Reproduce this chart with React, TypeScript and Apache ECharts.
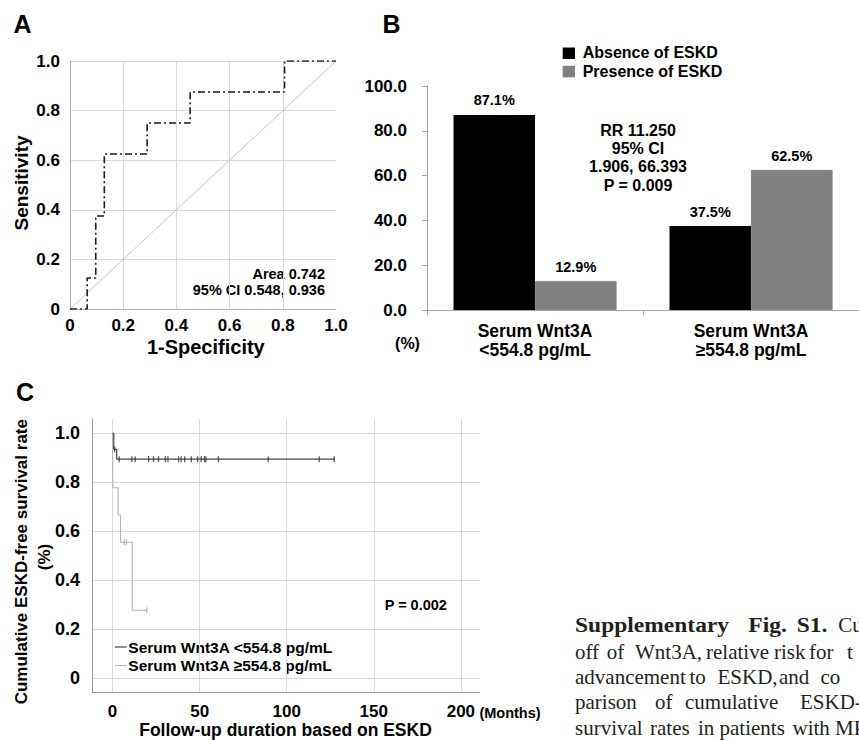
import React, { useEffect, useRef } from "react";
import * as echarts from "echarts";

const SANS = '"Liberation Sans", Arial, Helvetica, sans-serif';
const SERIF = '"Liberation Serif", "Times New Roman", serif';

// ---------- Panel A: ROC curve ----------
const rocFpr = [0, 0.0645, 0.0968, 0.129, 0.29, 0.4516, 0.8065, 1.0];
const rocTpr = [0, 0.125, 0.375, 0.625, 0.75, 0.875, 1.0, 1.0];
const rocTicks = [0, 0.2, 0.4, 0.6, 0.8, 1.0];

// ---------- Panel B: bar chart ----------
const barCategories = ["Serum Wnt3A\n<554.8 pg/mL", "Serum Wnt3A\n≥554.8 pg/mL"];
const absenceESKD = [87.1, 37.5];
const presenceESKD = [12.9, 62.5];

// ---------- Panel C: Kaplan-Meier ----------
const kmLowTime = [0, 0.7, 2.4, 127.3];
const kmLowSurv = [1.0, 0.935, 0.895, 0.895];
const kmLowCensor = [1.2, 3.8, 11.1, 13.0, 20.7, 23.5, 26.4, 30.3, 31.8, 37.9, 39.4, 41.4, 45.2, 48.8, 50.9, 52.8, 53.6, 60.8, 89.4, 118.7, 127.3];
const kmHighTime = [0, 0, 0.2, 3.2, 4.6, 11.3, 19.7];
const kmHighSurv = [1.0, 0.889, 0.778, 0.667, 0.556, 0.278, 0.278];
const kmHighCensor = [6.7, 7.9, 19.7];
const kmXTicks = [0, 50, 100, 150, 200];
const kmYTicks = [0, 0.2, 0.4, 0.6, 0.8, 1.0];

function survAt(times: number[], survs: number[], t: number) {
  let s = survs[0];
  for (let i = 0; i < times.length; i++) if (times[i] <= t) s = survs[i];
  return s;
}

const pairs = (xs: number[], ys: number[]) => xs.map((x, i) => [x, ys[i]]);

const fmt1 = (v: number) => (Math.abs(v) < 1e-9 ? "0" : v.toFixed(1));

const txt = (x: number, y: number, text: string, size: number, extra: any = {}) => ({
  type: "text",
  x,
  y,
  rotation: extra.rotation || 0,
  scaleX: extra.scaleX || 1,
  style: {
    text,
    fontFamily: extra.family || SANS,
    fontWeight: extra.weight || "bold",
    fontSize: size,
    fill: extra.fill || "#000",
    align: extra.align || "center",
    verticalAlign: "middle",
  },
});

// caption as it appears (cut at the right edge of the figure)
const captionWords: [number, number, string, boolean][] = [
  [575, 625, "Supplementary", true],
  [748.3, 625, "Fig.", true],
  [796.7, 625, "S1.", true],
  [838.3, 625, "Cu", false],
  [575, 651.7, "off", false],
  [606.7, 651.7, "of", false],
  [635, 651.7, "Wnt3A,", false],
  [706, 651.7, "relative", false],
  [774, 651.7, "risk", false],
  [809, 651.7, "for", false],
  [847, 651.7, "t", false],
  [575, 676.7, "advancement", false],
  [689.5, 676.7, "to", false],
  [717.5, 676.7, "ESKD,", false],
  [779, 676.7, "and", false],
  [820.5, 676.7, "co", false],
  [575, 702.3, "parison", false],
  [655, 702.3, "of", false],
  [685, 702.3, "cumulative", false],
  [800, 702.3, "ESKD-fr", false],
  [575, 728.3, "survival", false],
  [650, 728.3, "rates", false],
  [698, 728.3, "in", false],
  [719.5, 728.3, "patients", false],
  [792.5, 728.3, "with", false],
  [835, 728.3, "MP", false],
];

const labelBase = { fontFamily: SANS, fontWeight: "bold", color: "#000" };

const option: any = {
  animation: false,
  backgroundColor: "#fff",
  grid: [
    { left: 70, top: 61, width: 266, height: 248 },
    { left: 427, top: 86, width: 441, height: 224 },
    { left: 92, top: 419, width: 387.5, height: 273.3 },
  ],
  xAxis: [
    {
      gridIndex: 0,
      type: "value",
      min: 0,
      max: 1,
      interval: 0.2,
      axisLine: { show: true, onZero: false, lineStyle: { color: "#b0b0b0", width: 1 } },
      axisTick: { show: false },
      splitLine: { show: true, showMaxLine: false, lineStyle: { color: "#d9d9d9", width: 1 } },
      axisLabel: { ...labelBase, fontSize: 17, margin: 8, formatter: fmt1 },
    },
    {
      gridIndex: 1,
      type: "category",
      data: barCategories,
      axisLine: { show: true, onZero: false, lineStyle: { color: "#a6a6a6", width: 1 } },
      axisTick: { show: true, length: 5, lineStyle: { color: "#a6a6a6" } },
      splitLine: { show: false },
      axisLabel: { ...labelBase, fontSize: 17.5, lineHeight: 19.5, margin: 11, interval: 0 },
    },
    {
      gridIndex: 2,
      type: "value",
      min: -11.8,
      max: 210.7,
      axisLine: { show: true, onZero: false, lineStyle: { color: "#9a9a9a", width: 1 } },
      axisTick: { show: false, customValues: kmXTicks },
      splitLine: { show: true, lineStyle: { color: "#d9d9d9", width: 1 } },
      axisLabel: { ...labelBase, fontSize: 17, margin: 11, customValues: kmXTicks, formatter: (v: number) => String(Math.round(v)) },
    },
  ],
  yAxis: [
    {
      gridIndex: 0,
      type: "value",
      min: 0,
      max: 1,
      interval: 0.2,
      axisLine: { show: true, onZero: false, lineStyle: { color: "#b0b0b0", width: 1 } },
      axisTick: { show: false },
      splitLine: { show: true, lineStyle: { color: "#d9d9d9", width: 1 } },
      axisLabel: { ...labelBase, fontSize: 17, margin: 10, formatter: fmt1 },
    },
    {
      gridIndex: 1,
      type: "value",
      min: 0,
      max: 100,
      interval: 20,
      axisLine: { show: true, onZero: false, lineStyle: { color: "#a6a6a6", width: 1 } },
      axisTick: { show: true, length: 5, lineStyle: { color: "#a6a6a6" } },
      splitLine: { show: false },
      axisLabel: { ...labelBase, fontSize: 17, margin: 20, formatter: (v: number) => v.toFixed(1) },
    },
    {
      gridIndex: 2,
      type: "value",
      min: -0.057,
      max: 1.059,
      axisLine: { show: true, onZero: false, lineStyle: { color: "#9a9a9a", width: 1 } },
      axisTick: { show: false, customValues: kmYTicks },
      splitLine: { show: true, lineStyle: { color: "#d9d9d9", width: 1 } },
      axisLabel: { ...labelBase, fontSize: 18, margin: 12, customValues: kmYTicks, formatter: fmt1 },
    },
  ],
  series: [
    {
      name: "Reference",
      type: "line",
      xAxisIndex: 0,
      yAxisIndex: 0,
      data: [[rocTicks[0], rocTicks[0]], [rocTicks[5], rocTicks[5]]],
      symbol: "none",
      lineStyle: { color: "#c4c4c4", width: 1 },
      z: 3,
    },
    {
      name: "ROC",
      type: "line",
      xAxisIndex: 0,
      yAxisIndex: 0,
      data: pairs(rocFpr, rocTpr),
      step: "end",
      symbol: "none",
      lineStyle: { color: "#1a1a1a", width: 1.6, type: [7, 3, 2, 3] },
      z: 4,
    },
    {
      name: "Absence of ESKD",
      type: "bar",
      xAxisIndex: 1,
      yAxisIndex: 1,
      data: absenceESKD,
      barWidth: 81.5,
      barGap: "0%",
      itemStyle: { color: "#000000" },
      label: { show: true, position: "top", distance: 7, ...labelBase, fontSize: 14.5, formatter: (p: any) => p.value.toFixed(1) + "%" },
    },
    {
      name: "Presence of ESKD",
      type: "bar",
      xAxisIndex: 1,
      yAxisIndex: 1,
      data: presenceESKD,
      barWidth: 81.5,
      barGap: "0%",
      itemStyle: { color: "#808080", borderColor: "#6e6e6e", borderWidth: 0.6 },
      label: { show: true, position: "top", distance: 7, ...labelBase, fontSize: 14.5, formatter: (p: any) => p.value.toFixed(1) + "%" },
    },
    {
      name: "Serum Wnt3A ≥554.8 pg/mL",
      type: "line",
      xAxisIndex: 2,
      yAxisIndex: 2,
      data: pairs(kmHighTime, kmHighSurv),
      step: "end",
      symbol: "none",
      lineStyle: { color: "#b3b3b3", width: 1.1 },
      z: 3,
    },
    {
      name: "High censored",
      type: "scatter",
      xAxisIndex: 2,
      yAxisIndex: 2,
      data: kmHighCensor.map((t) => [t, survAt(kmHighTime, kmHighSurv, t)]),
      symbol: "rect",
      symbolSize: [1.2, 6],
      itemStyle: { color: "#a8a8a8" },
      z: 3,
    },
    {
      name: "Serum Wnt3A <554.8 pg/mL",
      type: "line",
      xAxisIndex: 2,
      yAxisIndex: 2,
      data: pairs(kmLowTime, kmLowSurv),
      step: "end",
      symbol: "none",
      lineStyle: { color: "#444444", width: 1.2 },
      z: 4,
    },
    {
      name: "Low censored",
      type: "scatter",
      xAxisIndex: 2,
      yAxisIndex: 2,
      data: kmLowCensor.map((t) => [t, survAt(kmLowTime, kmLowSurv, t)]),
      symbol: "rect",
      symbolSize: [1.3, 6],
      itemStyle: { color: "#333333" },
      z: 4,
    },
  ],
  graphic: [
    // panel letters
    txt(22.5, 24, "A", 25),
    txt(391.5, 24, "B", 25),
    txt(25, 391.5, "C", 25),
    // panel A texts
    txt(21.7, 183, "Sensitivity", 19, { rotation: Math.PI / 2 }),
    txt(205.8, 346.7, "1-Specificity", 20),
    txt(325, 274, "Area 0.742", 14.5, { align: "right" }),
    txt(325, 290, "95% CI 0.548, 0.936", 14.5, { align: "right" }),
    // panel B legend and notes
    { type: "rect", shape: { x: 562.7, y: 47.5, width: 12.3, height: 11.5 }, style: { fill: "#000" } },
    { type: "rect", shape: { x: 562.7, y: 65.8, width: 12.3, height: 11.5 }, style: { fill: "#808080" } },
    txt(582.7, 52.7, "Absence of ESKD", 16, { align: "left" }),
    txt(582.7, 71, "Presence of ESKD", 16, { align: "left" }),
    txt(638, 130, "RR 11.250", 16),
    txt(638, 148.3, "95% CI", 16),
    txt(638, 166.7, "1.906, 66.393", 16),
    txt(638, 185, "P = 0.009", 16),
    txt(407.5, 343.3, "(%)", 16),
    // panel C texts
    txt(21, 561.7, "Cumulative ESKD-free survival rate", 17, { rotation: Math.PI / 2 }),
    txt(44, 557, "(%)", 17, { rotation: Math.PI / 2 }),
    txt(510, 713, "(Months)", 14.5),
    txt(285.5, 729.5, "Follow-up duration based on ESKD", 17.5),
    txt(415.8, 605, "P = 0.002", 14.5),
    { type: "line", shape: { x1: 115, y1: 647, x2: 126.7, y2: 647 }, style: { stroke: "#444", lineWidth: 1.2 } },
    { type: "line", shape: { x1: 115, y1: 665.5, x2: 126.7, y2: 665.5 }, style: { stroke: "#b3b3b3", lineWidth: 1.1 } },
    txt(128.3, 647, "Serum Wnt3A <554.8 pg/mL", 15.5, { align: "left" }),
    txt(128.3, 665.5, "Serum Wnt3A ≥554.8 pg/mL", 15.5, { align: "left" }),
    // caption
    ...captionWords.map(([x, y, w, b]) =>
      txt(x, y, w, 21, { align: "left", family: SERIF, weight: b ? "bold" : "normal", fill: "#231f20", scaleX: b ? 1.12 : 1 })
    ),
  ],
};

export default function App() {
  const ref = useRef<HTMLDivElement>(null);
  useEffect(() => {
    document.body.style.margin = "0";
    const chart = echarts.init(ref.current as HTMLDivElement, undefined, { renderer: "svg" });
    chart.setOption(option);
    return () => chart.dispose();
  }, []);
  return <div ref={ref} style={{ width: 859, height: 740, overflow: "hidden" }} />;
}
